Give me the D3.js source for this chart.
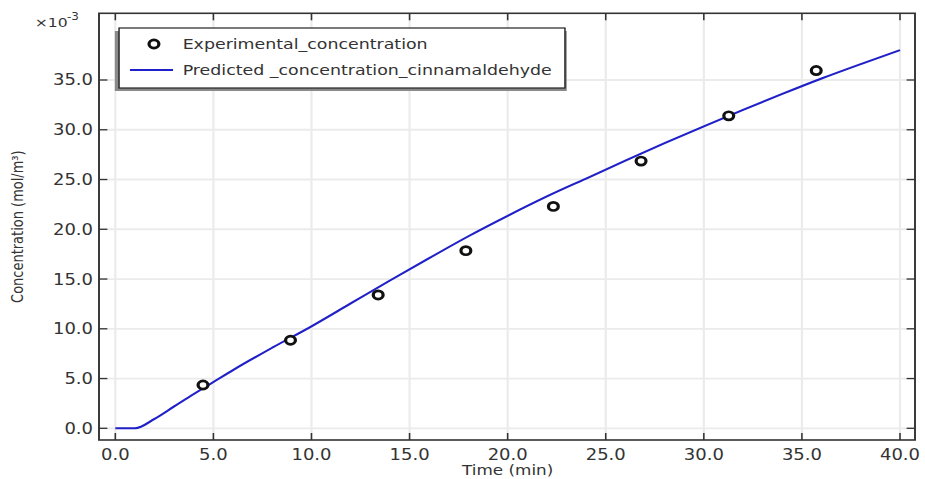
<!DOCTYPE html>
<html>
<head>
<meta charset="utf-8">
<script src="https://cdn.jsdelivr.net/npm/d3@7"></script>
<style>
  html, body { margin: 0; padding: 0; background: #fff; }
  svg { display: block; }
  text { font-family: "DejaVu Sans", sans-serif; fill: #333; }
</style>
</head>
<body>
<svg id="chart" width="925" height="479"></svg>
<script>
// Measured concentrations (x10^-3 mol/m^3) against time (min)
const expTime = [4.47, 8.93, 13.4, 17.87, 22.33, 26.8, 31.27, 35.73];
const expConc = [4.35, 8.85, 13.4, 17.85, 22.3, 26.85, 31.4, 35.95];

// Model prediction for cinnamaldehyde
const modelTime = [0, 1, 2, 3, 4, 5, 6, 8, 10, 12, 14, 16, 18, 20, 22, 24, 26, 28, 30, 32, 34, 36, 38, 40];
const modelConc = [0, 0, 0.95, 2.2, 3.45, 4.65, 5.85, 8.1, 10.25, 12.55, 14.85, 17.1, 19.3, 21.35, 23.3, 25.1, 26.9, 28.65, 30.35, 32.0, 33.6, 35.15, 36.6, 38.0];

const xTicks = [0, 5, 10, 15, 20, 25, 30, 35, 40];
const yTicks = [0, 5, 10, 15, 20, 25, 30, 35];

const seriesNames = ["Experimental_concentration", "Predicted _concentration_cinnamaldehyde"];

// The whole figure is drawn in a horizontally stretched frame
const SX = 1.2;
const svg = d3.select("#chart");
const g = svg.append("g").attr("transform", `scale(${SX},1)`);

const frame = { left: 82.5, right: 762.5, top: 13.3, bottom: 440 };

const x = d3.scaleLinear().domain([0, 40]).range([96.1, 750]);
const y = d3.scaleLinear().domain([0, 35]).range([428.3, 80]);

const lineBlue = "#2020c8";
const axisCol = "#333";

// plot background
g.append("rect")
  .attr("x", frame.left).attr("y", frame.top)
  .attr("width", frame.right - frame.left).attr("height", frame.bottom - frame.top)
  .attr("fill", "#fff");

// grid
const grid = g.append("g").attr("stroke", "#ebebeb").attr("stroke-width", 1.8);
grid.selectAll("line.gx").data(xTicks).join("line")
  .attr("x1", d => x(d)).attr("x2", d => x(d))
  .attr("y1", frame.top).attr("y2", frame.bottom);
grid.selectAll("line.gy").data(yTicks).join("line")
  .attr("x1", frame.left).attr("x2", frame.right)
  .attr("y1", d => y(d)).attr("y2", d => y(d));

// model curve
const line = d3.line()
  .x((d, i) => x(modelTime[i]))
  .y(d => y(d))
  .curve(d3.curveMonotoneX);
g.append("path")
  .datum(modelConc)
  .attr("d", line)
  .attr("fill", "none")
  .attr("stroke", lineBlue)
  .attr("stroke-width", 2);

// experimental points
g.selectAll("circle.pt").data(expConc).join("circle")
  .attr("class", "pt")
  .attr("cx", (d, i) => x(expTime[i]))
  .attr("cy", d => y(d))
  .attr("r", 4.1)
  .attr("fill", "#fff")
  .attr("stroke", "#111")
  .attr("stroke-width", 2.7);

// frame
g.append("rect")
  .attr("x", frame.left).attr("y", frame.top)
  .attr("width", frame.right - frame.left).attr("height", frame.bottom - frame.top)
  .attr("fill", "none")
  .attr("stroke", axisCol)
  .attr("stroke-width", 1.6);

// inward ticks on all four sides
const ticks = g.append("g").attr("stroke", axisCol).attr("stroke-width", 1.3);
ticks.selectAll("line.bt").data(xTicks).join("line")
  .attr("x1", d => x(d)).attr("x2", d => x(d))
  .attr("y1", frame.bottom).attr("y2", frame.bottom - 7);
ticks.selectAll("line.tt").data(xTicks).join("line")
  .attr("x1", d => x(d)).attr("x2", d => x(d))
  .attr("y1", frame.top).attr("y2", frame.top + 7);
ticks.selectAll("line.lt").data(yTicks).join("line")
  .attr("x1", frame.left).attr("x2", frame.left + 7)
  .attr("y1", d => y(d)).attr("y2", d => y(d));
ticks.selectAll("line.rt").data(yTicks).join("line")
  .attr("x1", frame.right).attr("x2", frame.right - 7)
  .attr("y1", d => y(d)).attr("y2", d => y(d));

// tick labels
g.selectAll("text.xl").data(xTicks).join("text")
  .attr("x", d => x(d)).attr("y", 460.5)
  .attr("text-anchor", "middle")
  .style("font-size", "15px")
  .text(d => d.toFixed(1));
g.selectAll("text.yl").data(yTicks).join("text")
  .attr("x", 77.5).attr("y", d => y(d) + 5.5)
  .attr("text-anchor", "end")
  .style("font-size", "15px")
  .text(d => d.toFixed(1));

// axis titles
g.append("text")
  .attr("x", (x(0) + x(40)) / 2).attr("y", 475)
  .attr("text-anchor", "middle")
  .style("font-size", "14px")
  .text("Time (min)");
g.append("text")
  .attr("transform", `translate(19.5,${(frame.top + frame.bottom) / 2}) rotate(-90)`)
  .attr("text-anchor", "middle")
  .style("font-size", "13px")
  .text("Concentration (mol/m³)");

// axis multiplier
g.append("text")
  .attr("x", 29).attr("y", 27)
  .style("font-size", "13px")
  .text("×10");
g.append("text")
  .attr("x", 55.8).attr("y", 20)
  .style("font-size", "10px")
  .text("-3");

// legend
const leg = { x: 99.2, y: 28, w: 371.6, h: 60 };
g.append("rect")
  .attr("x", leg.x - 3.5).attr("y", leg.y + 3)
  .attr("width", leg.w + 5).attr("height", leg.h)
  .attr("fill", "#8a8a8a");
g.append("rect")
  .attr("x", leg.x).attr("y", leg.y)
  .attr("width", leg.w).attr("height", leg.h)
  .attr("fill", "#fff")
  .attr("stroke", "#222")
  .attr("stroke-width", 1.2);

const rowY = [44, 70];
g.append("circle")
  .attr("cx", 128.3).attr("cy", rowY[0])
  .attr("r", 4.1)
  .attr("fill", "#fff").attr("stroke", "#111").attr("stroke-width", 2.7);
g.append("line")
  .attr("x1", 108.3).attr("x2", 144.2)
  .attr("y1", rowY[1]).attr("y2", rowY[1])
  .attr("stroke", lineBlue).attr("stroke-width", 2);
g.selectAll("text.lg").data(seriesNames).join("text")
  .attr("x", 152.2).attr("y", (d, i) => rowY[i] + 5)
  .style("font-size", "14.5px")
  .text(d => d);
</script>
</body>
</html>
